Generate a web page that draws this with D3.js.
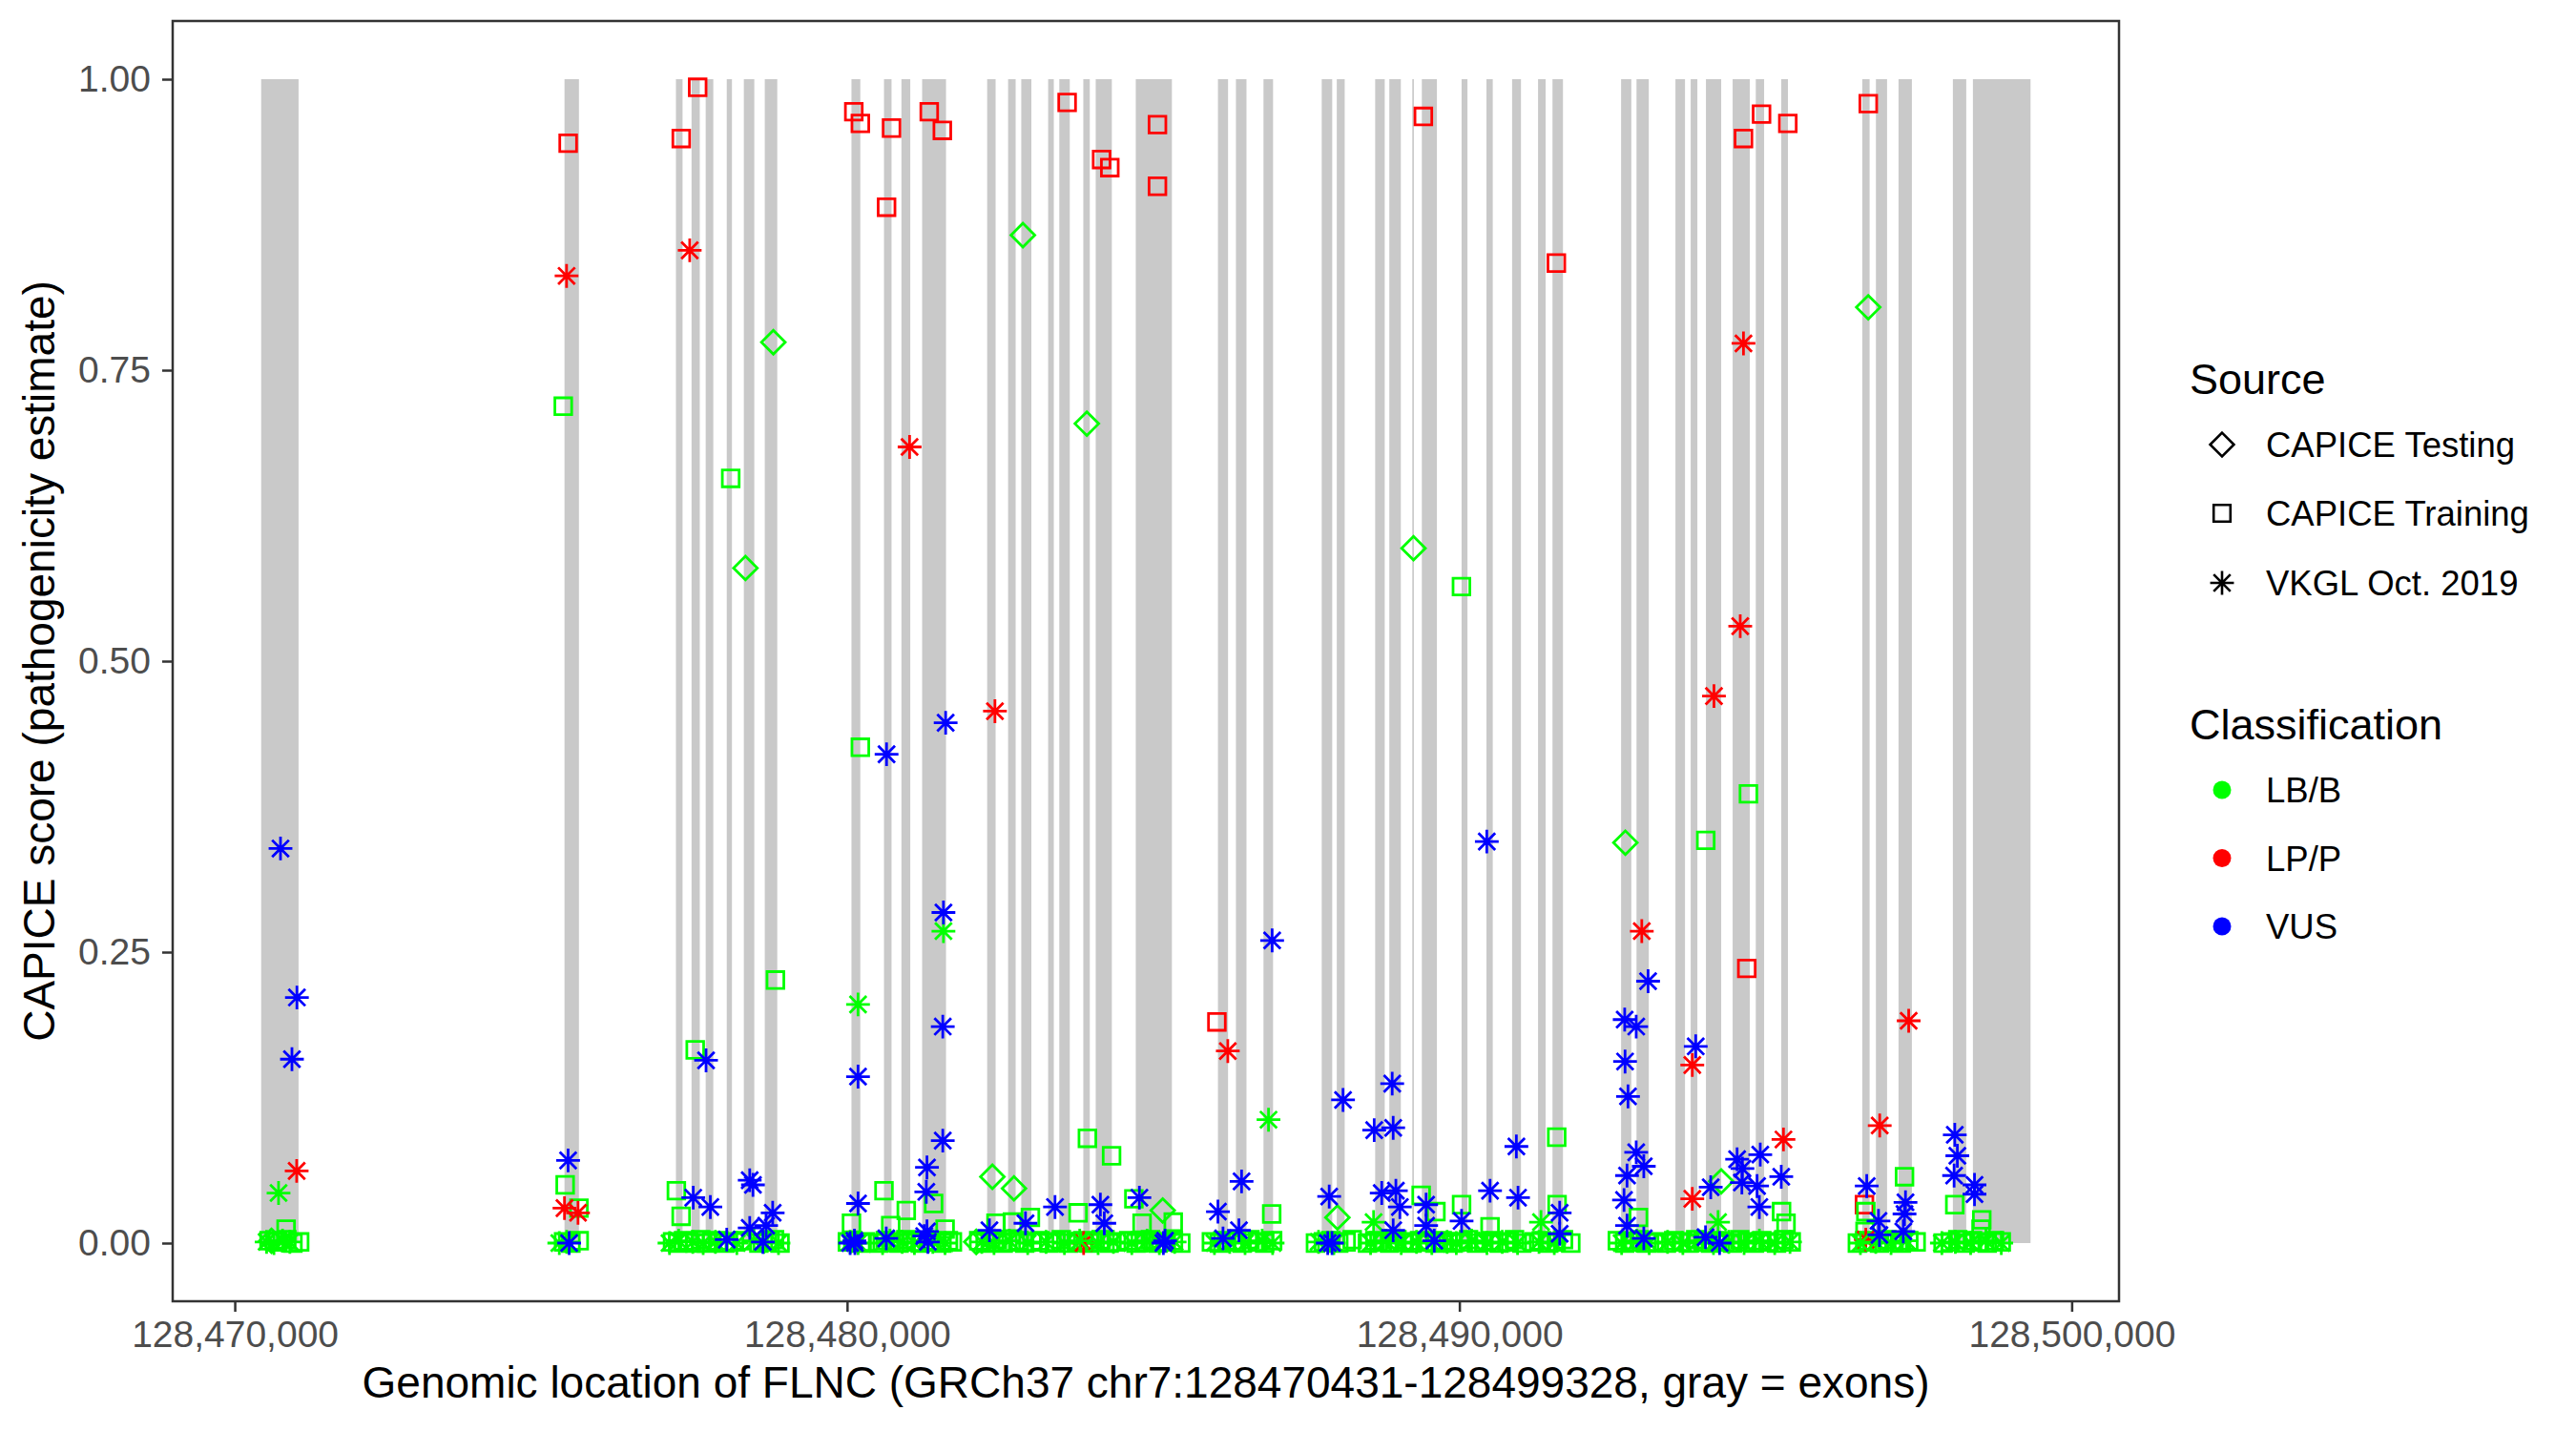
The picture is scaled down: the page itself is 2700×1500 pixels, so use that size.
<!DOCTYPE html>
<html>
<head>
<meta charset="utf-8">
<script src="https://cdn.jsdelivr.net/npm/d3@7"></script>
<style>
  body { margin: 0; background: #fff; }
  text { font-family: "Liberation Sans", Arial, sans-serif; }
</style>
</head>
<body>
<div id="chart"></div>
<script>

// exon start/end on chr7 (gray bands)
var exons = [
  [128470431,128471042],[128475385,128475621],[128477205,128477313],[128477460,128477594],
  [128477691,128477815],[128478035,128478120],[128478314,128478485],[128478656,128478860],
  [128480072,128480216],[128480603,128480726],[128480888,128481032],[128481226,128481616],
  [128482288,128482426],[128482630,128482753],[128482845,128483010],[128483284,128483376],
  [128483466,128483637],[128483858,128483964],[128484061,128484324],[128484715,128485305],
  [128486057,128486222],[128486351,128486523],[128486801,128486957],[128487752,128487923],
  [128487998,128488127],[128488625,128488781],[128488856,128489044],[128489231,128489257],
  [128489387,128489633],[128490036,128490132],[128490442,128490545],[128490861,128491006],
  [128491285,128491408],[128491521,128491692],[128492641,128492808],[128492893,128493093],
  [128493529,128493685],[128493778,128493887],[128494027,128494276],[128494463,128494743],
  [128494841,128494977],[128495257,128495366],[128496580,128496700],[128496803,128496985],
  [128497172,128497390],[128498060,128498278],[128498387,128499328]
];

var xTicks = [128470000, 128480000, 128490000, 128500000];
var yTicks = [0, 0.25, 0.5, 0.75, 1];
var sources = ["CAPICE Testing", "CAPICE Training", "VKGL Oct. 2019"];
var classes = ["LB/B", "LP/P", "VUS"];

// [position, score, classification]
var testingPoints = [
  [128478796,0.774,"LB/B"],[128478340,0.580,"LB/B"],[128482871,0.866,"LB/B"],[128483916,0.704,"LB/B"],
  [128489251,0.597,"LB/B"],[128496678,0.804,"LB/B"],[128492711,0.344,"LB/B"],[128482373,0.057,"LB/B"],
  [128482726,0.047,"LB/B"],[128485155,0.028,"LB/B"],[128488008,0.022,"LB/B"],[128494276,0.053,"LB/B"],
  [128482110,0.001,"LB/B"],[128470600,0.002,"LB/B"]
];

var trainingPoints = [
  [128475445,0.945,"LP/P"],[128477292,0.949,"LP/P"],[128477560,0.993,"LP/P"],[128480110,0.972,"LP/P"],
  [128480217,0.962,"LP/P"],[128480726,0.958,"LP/P"],[128480645,0.890,"LP/P"],[128481342,0.972,"LP/P"],
  [128481556,0.956,"LP/P"],[128483594,0.980,"LP/P"],[128484157,0.931,"LP/P"],[128484291,0.924,"LP/P"],
  [128485069,0.961,"LP/P"],[128485069,0.908,"LP/P"],[128489412,0.968,"LP/P"],[128491584,0.842,"LP/P"],
  [128494640,0.949,"LP/P"],[128494935,0.970,"LP/P"],[128495364,0.962,"LP/P"],[128496678,0.979,"LP/P"],
  [128494694,0.236,"LP/P"],[128486040,0.190,"LP/P"],[128496616,0.033,"LP/P"],
  [128475365,0.719,"LB/B"],[128478100,0.657,"LB/B"],[128477520,0.166,"LB/B"],[128478830,0.226,"LB/B"],
  [128480217,0.426,"LB/B"],[128490034,0.564,"LB/B"],[128494024,0.346,"LB/B"],[128494721,0.386,"LB/B"],
  [128491590,0.091,"LB/B"],[128483925,0.090,"LB/B"],[128484320,0.075,"LB/B"],[128470838,0.012,"LB/B"],
  [128475396,0.050,"LB/B"],[128475621,0.030,"LB/B"],[128477212,0.045,"LB/B"],[128477290,0.023,"LB/B"],
  [128480603,0.045,"LB/B"],[128480072,0.017,"LB/B"],[128480967,0.028,"LB/B"],[128481413,0.034,"LB/B"],
  [128483772,0.026,"LB/B"],[128484684,0.038,"LB/B"],[128484818,0.017,"LB/B"],[128485327,0.018,"LB/B"],
  [128482700,0.018,"LB/B"],[128482994,0.022,"LB/B"],[128482432,0.017,"LB/B"],[128481601,0.012,"LB/B"],
  [128480713,0.015,"LB/B"],[128486935,0.025,"LB/B"],[128489376,0.041,"LB/B"],[128489617,0.027,"LB/B"],
  [128490036,0.033,"LB/B"],[128490501,0.014,"LB/B"],[128491596,0.033,"LB/B"],[128492925,0.022,"LB/B"],
  [128495262,0.027,"LB/B"],[128495335,0.017,"LB/B"],[128497270,0.057,"LB/B"],[128496638,0.027,"LB/B"],
  [128496625,0.010,"LB/B"],[128498091,0.033,"LB/B"],[128498532,0.020,"LB/B"],[128498520,0.012,"LB/B"],
  // near-zero scores
  [128470560,0.002,"LB/B"],[128470700,0.001,"LB/B"],[128470850,0.003,"LB/B"],[128470950,0.000,"LB/B"],
  [128471060,0.001,"LB/B"],[128475370,0.001,"LB/B"],[128475490,0.000,"LB/B"],[128475625,0.002,"LB/B"],
  [128477150,0.001,"LB/B"],[128477235,0.000,"LB/B"],[128477330,0.002,"LB/B"],[128477420,0.001,"LB/B"],
  [128477515,0.000,"LB/B"],[128477610,0.003,"LB/B"],[128477705,0.000,"LB/B"],[128477790,0.001,"LB/B"],
  [128477905,0.002,"LB/B"],[128478010,0.000,"LB/B"],[128478160,0.001,"LB/B"],[128478290,0.002,"LB/B"],
  [128478560,0.000,"LB/B"],[128478700,0.001,"LB/B"],[128478815,0.003,"LB/B"],[128478905,0.000,"LB/B"],
  [128480005,0.001,"LB/B"],[128480095,0.002,"LB/B"],[128480225,0.000,"LB/B"],[128480300,0.001,"LB/B"],
  [128480520,0.000,"LB/B"],[128480625,0.002,"LB/B"],[128480720,0.001,"LB/B"],[128480850,0.000,"LB/B"],
  [128480960,0.003,"LB/B"],[128481055,0.001,"LB/B"],[128481195,0.000,"LB/B"],[128481350,0.002,"LB/B"],
  [128481450,0.001,"LB/B"],[128481550,0.000,"LB/B"],[128481655,0.002,"LB/B"],[128481720,0.001,"LB/B"],
  [128482150,0.002,"LB/B"],[128482255,0.000,"LB/B"],[128482345,0.001,"LB/B"],[128482455,0.003,"LB/B"],
  [128482550,0.000,"LB/B"],[128482680,0.001,"LB/B"],[128482805,0.002,"LB/B"],[128482900,0.000,"LB/B"],
  [128483020,0.001,"LB/B"],[128483150,0.002,"LB/B"],[128483300,0.000,"LB/B"],[128483405,0.001,"LB/B"],
  [128483500,0.003,"LB/B"],[128483620,0.000,"LB/B"],[128483745,0.001,"LB/B"],[128483850,0.002,"LB/B"],
  [128483955,0.000,"LB/B"],[128484050,0.001,"LB/B"],[128484150,0.003,"LB/B"],[128484280,0.000,"LB/B"],
  [128484400,0.001,"LB/B"],[128484600,0.002,"LB/B"],[128484720,0.000,"LB/B"],[128484850,0.001,"LB/B"],
  [128484955,0.003,"LB/B"],[128485080,0.000,"LB/B"],[128485200,0.001,"LB/B"],[128485330,0.002,"LB/B"],
  [128485450,0.000,"LB/B"],[128485950,0.001,"LB/B"],[128486080,0.000,"LB/B"],[128486200,0.002,"LB/B"],
  [128486330,0.001,"LB/B"],[128486450,0.000,"LB/B"],[128486580,0.003,"LB/B"],[128486700,0.001,"LB/B"],
  [128486820,0.000,"LB/B"],[128486950,0.002,"LB/B"],[128487650,0.000,"LB/B"],[128487780,0.001,"LB/B"],
  [128487900,0.002,"LB/B"],[128488030,0.000,"LB/B"],[128488150,0.001,"LB/B"],[128488250,0.003,"LB/B"],
  [128488500,0.000,"LB/B"],[128488620,0.002,"LB/B"],[128488740,0.001,"LB/B"],[128488860,0.000,"LB/B"],
  [128488980,0.003,"LB/B"],[128489100,0.001,"LB/B"],[128489230,0.000,"LB/B"],[128489350,0.002,"LB/B"],
  [128489470,0.001,"LB/B"],[128489600,0.000,"LB/B"],[128489720,0.002,"LB/B"],[128489820,0.001,"LB/B"],
  [128489900,0.000,"LB/B"],[128490020,0.001,"LB/B"],[128490150,0.003,"LB/B"],[128490280,0.000,"LB/B"],
  [128490400,0.001,"LB/B"],[128490520,0.002,"LB/B"],[128490650,0.000,"LB/B"],[128490780,0.001,"LB/B"],
  [128490900,0.003,"LB/B"],[128491020,0.000,"LB/B"],[128491220,0.001,"LB/B"],[128491340,0.002,"LB/B"],
  [128491460,0.000,"LB/B"],[128491580,0.001,"LB/B"],[128491700,0.003,"LB/B"],[128491820,0.000,"LB/B"],
  [128492580,0.002,"LB/B"],[128492700,0.000,"LB/B"],[128492820,0.001,"LB/B"],[128492940,0.003,"LB/B"],
  [128493060,0.000,"LB/B"],[128493180,0.001,"LB/B"],[128493380,0.000,"LB/B"],[128493500,0.002,"LB/B"],
  [128493620,0.001,"LB/B"],[128493740,0.000,"LB/B"],[128493860,0.003,"LB/B"],[128493980,0.001,"LB/B"],
  [128494100,0.000,"LB/B"],[128494220,0.002,"LB/B"],[128494340,0.001,"LB/B"],[128494460,0.000,"LB/B"],
  [128494580,0.003,"LB/B"],[128494700,0.001,"LB/B"],[128494820,0.000,"LB/B"],[128494940,0.002,"LB/B"],
  [128495060,0.001,"LB/B"],[128495180,0.000,"LB/B"],[128495300,0.003,"LB/B"],[128495420,0.001,"LB/B"],
  [128496500,0.000,"LB/B"],[128496620,0.002,"LB/B"],[128496740,0.001,"LB/B"],[128496860,0.000,"LB/B"],
  [128496980,0.003,"LB/B"],[128497100,0.001,"LB/B"],[128497220,0.000,"LB/B"],[128497340,0.002,"LB/B"],
  [128497460,0.001,"LB/B"],[128497900,0.000,"LB/B"],[128498020,0.001,"LB/B"],[128498140,0.003,"LB/B"],
  [128498260,0.000,"LB/B"],[128498380,0.002,"LB/B"],[128498500,0.001,"LB/B"],[128498620,0.000,"LB/B"],
  [128498740,0.002,"LB/B"],[128498850,0.001,"LB/B"]
];

var vkglPoints = [
  [128475419,0.831,"LP/P"],[128477430,0.853,"LP/P"],[128481021,0.684,"LP/P"],[128482415,0.457,"LP/P"],
  [128494640,0.773,"LP/P"],[128494587,0.530,"LP/P"],[128494158,0.470,"LP/P"],[128492979,0.268,"LP/P"],
  [128493804,0.153,"LP/P"],[128493804,0.038,"LP/P"],[128495293,0.089,"LP/P"],[128496865,0.101,"LP/P"],
  [128497338,0.191,"LP/P"],[128486218,0.165,"LP/P"],[128471011,0.062,"LP/P"],[128475385,0.030,"LP/P"],
  [128475606,0.026,"LP/P"],[128483863,0.000,"LP/P"],[128496638,0.003,"LP/P"],
  [128470715,0.043,"LB/B"],[128480179,0.205,"LB/B"],[128481574,0.268,"LB/B"],[128486883,0.106,"LB/B"],
  [128488599,0.018,"LB/B"],[128491333,0.018,"LB/B"],[128494225,0.018,"LB/B"],
  [128470520,0.001,"LB/B"],[128470640,0.000,"LB/B"],[128470780,0.002,"LB/B"],[128470900,0.001,"LB/B"],
  [128475300,0.000,"LB/B"],[128475420,0.001,"LB/B"],[128477100,0.000,"LB/B"],[128477250,0.002,"LB/B"],
  [128477480,0.001,"LB/B"],[128477650,0.000,"LB/B"],[128477850,0.001,"LB/B"],[128478200,0.000,"LB/B"],
  [128478480,0.002,"LB/B"],[128478640,0.001,"LB/B"],[128478880,0.000,"LB/B"],[128480050,0.001,"LB/B"],
  [128480180,0.000,"LB/B"],[128480580,0.000,"LB/B"],[128480700,0.002,"LB/B"],[128480900,0.001,"LB/B"],
  [128481100,0.000,"LB/B"],[128481400,0.001,"LB/B"],[128481600,0.000,"LB/B"],[128482200,0.001,"LB/B"],
  [128482400,0.000,"LB/B"],[128482650,0.002,"LB/B"],[128482950,0.000,"LB/B"],[128483250,0.001,"LB/B"],
  [128483550,0.000,"LB/B"],[128483800,0.002,"LB/B"],[128484100,0.000,"LB/B"],[128484350,0.001,"LB/B"],
  [128484650,0.000,"LB/B"],[128484900,0.002,"LB/B"],[128485100,0.000,"LB/B"],[128485350,0.001,"LB/B"],
  [128486000,0.000,"LB/B"],[128486250,0.001,"LB/B"],[128486500,0.000,"LB/B"],[128486780,0.002,"LB/B"],
  [128486950,0.000,"LB/B"],[128487700,0.001,"LB/B"],[128487950,0.000,"LB/B"],[128488550,0.000,"LB/B"],
  [128488800,0.002,"LB/B"],[128489050,0.000,"LB/B"],[128489300,0.001,"LB/B"],[128489550,0.000,"LB/B"],
  [128489800,0.001,"LB/B"],[128489950,0.000,"LB/B"],[128490200,0.002,"LB/B"],[128490450,0.000,"LB/B"],
  [128490700,0.001,"LB/B"],[128490950,0.000,"LB/B"],[128491300,0.001,"LB/B"],[128491550,0.000,"LB/B"],
  [128492650,0.000,"LB/B"],[128492900,0.002,"LB/B"],[128493100,0.000,"LB/B"],[128493400,0.001,"LB/B"],
  [128493650,0.000,"LB/B"],[128493900,0.002,"LB/B"],[128494150,0.000,"LB/B"],[128494400,0.001,"LB/B"],
  [128494650,0.000,"LB/B"],[128494900,0.002,"LB/B"],[128495150,0.000,"LB/B"],[128495400,0.001,"LB/B"],
  [128496550,0.000,"LB/B"],[128496800,0.001,"LB/B"],[128497050,0.000,"LB/B"],[128497300,0.002,"LB/B"],
  [128497880,0.000,"LB/B"],[128498100,0.001,"LB/B"],[128498350,0.000,"LB/B"],[128498600,0.002,"LB/B"],
  [128498850,0.000,"LB/B"],
  [128470747,0.339,"VUS"],[128471015,0.211,"VUS"],[128470934,0.158,"VUS"],[128475444,0.071,"VUS"],
  [128475461,0.000,"VUS"],[128477697,0.157,"VUS"],[128477488,0.039,"VUS"],[128477767,0.031,"VUS"],
  [128478035,0.003,"VUS"],[128478410,0.054,"VUS"],[128478463,0.050,"VUS"],[128478410,0.013,"VUS"],
  [128478785,0.026,"VUS"],[128478678,0.015,"VUS"],[128478625,0.001,"VUS"],[128480179,0.143,"VUS"],
  [128480179,0.034,"VUS"],[128480128,0.000,"VUS"],[128480050,0.000,"VUS"],[128480120,0.002,"VUS"],
  [128481574,0.284,"VUS"],[128481563,0.186,"VUS"],[128481563,0.088,"VUS"],[128481305,0.065,"VUS"],
  [128481294,0.044,"VUS"],[128481305,0.010,"VUS"],[128481320,0.001,"VUS"],[128481260,0.006,"VUS"],
  [128480645,0.420,"VUS"],[128481610,0.447,"VUS"],[128480640,0.004,"VUS"],[128482325,0.011,"VUS"],
  [128482914,0.017,"VUS"],[128483396,0.031,"VUS"],[128484137,0.033,"VUS"],[128484201,0.017,"VUS"],
  [128484774,0.039,"VUS"],[128485193,0.002,"VUS"],[128485166,0.000,"VUS"],[128486057,0.027,"VUS"],
  [128486140,0.004,"VUS"],[128486443,0.053,"VUS"],[128486400,0.011,"VUS"],[128486942,0.260,"VUS"],
  [128487874,0.040,"VUS"],[128487850,0.000,"VUS"],[128487920,0.000,"VUS"],[128488100,0.123,"VUS"],
  [128488609,0.097,"VUS"],[128488903,0.137,"VUS"],[128488919,0.099,"VUS"],[128488732,0.043,"VUS"],
  [128488963,0.045,"VUS"],[128489028,0.031,"VUS"],[128488919,0.011,"VUS"],[128489457,0.033,"VUS"],
  [128489457,0.015,"VUS"],[128489590,0.002,"VUS"],[128490448,0.345,"VUS"],[128490501,0.045,"VUS"],
  [128490931,0.083,"VUS"],[128490958,0.039,"VUS"],[128490036,0.019,"VUS"],[128491638,0.026,"VUS"],
  [128491638,0.008,"VUS"],[128492700,0.192,"VUS"],[128492888,0.186,"VUS"],[128493082,0.225,"VUS"],
  [128492706,0.156,"VUS"],[128492754,0.126,"VUS"],[128492888,0.078,"VUS"],[128493012,0.066,"VUS"],
  [128492738,0.058,"VUS"],[128492689,0.037,"VUS"],[128492738,0.015,"VUS"],[128493012,0.004,"VUS"],
  [128493860,0.169,"VUS"],[128494105,0.048,"VUS"],[128494536,0.072,"VUS"],[128494623,0.064,"VUS"],
  [128494614,0.052,"VUS"],[128494914,0.076,"VUS"],[128494862,0.049,"VUS"],[128494899,0.031,"VUS"],
  [128495257,0.057,"VUS"],[128494020,0.005,"VUS"],[128494250,0.000,"VUS"],[128496653,0.049,"VUS"],
  [128496845,0.019,"VUS"],[128496860,0.007,"VUS"],[128497286,0.035,"VUS"],[128497270,0.025,"VUS"],
  [128497250,0.010,"VUS"],[128498091,0.093,"VUS"],[128498133,0.075,"VUS"],[128498080,0.058,"VUS"],
  [128498413,0.050,"VUS"],[128498413,0.042,"VUS"]
];

var W = 2700, H = 1500;
var panel = {left: 181, right: 2221, top: 22, bottom: 1364};
var FONT = '"Liberation Sans", Arial, sans-serif';

var svg = d3.select("#chart").append("svg")
    .attr("width", W)
    .attr("height", H);

// x domain = gene span with ggplot's 5% expansion
var xmin = d3.min(exons, function(d) { return d[0]; }),
    xmax = d3.max(exons, function(d) { return d[1]; }),
    xpad = 0.05 * (xmax - xmin);
var x = d3.scaleLinear()
    .domain([xmin - xpad, xmax + xpad])
    .range([panel.left, panel.right]);

// exon bands run 0..1, so y expands around that
var y = d3.scaleLinear()
    .domain([-0.05, 1.05])
    .range([panel.bottom, panel.top]);

var color = d3.scaleOrdinal().domain(classes).range(["#00ff00", "#ff0000", "#0000ff"]);

// gray exon bands
svg.append("g").selectAll("rect")
  .data(exons)
  .enter().append("rect")
    .attr("x", function(d) { return x(d[0]); })
    .attr("width", function(d) { return x(d[1]) - x(d[0]); })
    .attr("y", y(1))
    .attr("height", y(0) - y(1))
    .attr("fill", "#c9c9c9");

// point shapes like R pch 5 / 0 / 8
var R = 8.8;
function shapePath(kind, r) {
  var k = Math.SQRT2 * r;
  if (kind === "diamond") return "M0," + (-k) + "L" + k + ",0L0," + k + "L" + (-k) + ",0Z";
  if (kind === "square") return "M" + (-r) + "," + (-r) + "h" + (2 * r) + "v" + (2 * r) + "h" + (-2 * r) + "Z";
  return "M0," + (-k) + "V" + k + "M" + (-k) + ",0H" + k +
         "M" + (-r) + "," + (-r) + "L" + r + "," + r + "M" + (-r) + "," + r + "L" + r + "," + (-r);
}

function drawPoints(data, kind) {
  svg.append("g").selectAll("path")
    .data(data)
    .enter().append("path")
      .attr("transform", function(d) { return "translate(" + x(d[0]) + "," + y(d[1]) + ")"; })
      .attr("d", shapePath(kind, R))
      .attr("fill", "none")
      .attr("stroke", function(d) { return color(d[2]); })
      .attr("stroke-width", 2.8);
}

drawPoints(trainingPoints, "square");
drawPoints(testingPoints, "diamond");
drawPoints(vkglPoints, "asterisk");

// panel border
svg.append("rect")
    .attr("x", panel.left).attr("y", panel.top)
    .attr("width", panel.right - panel.left)
    .attr("height", panel.bottom - panel.top)
    .attr("fill", "none")
    .attr("stroke", "#333333")
    .attr("stroke-width", 2.5);

// axes
var xAxis = svg.append("g")
    .attr("transform", "translate(0," + panel.bottom + ")")
    .call(d3.axisBottom(x).tickValues(xTicks).tickFormat(d3.format(",")).tickSize(11).tickPadding(9));
var yAxis = svg.append("g")
    .attr("transform", "translate(" + panel.left + ",0)")
    .call(d3.axisLeft(y).tickValues(yTicks).tickFormat(d3.format(".2f")).tickSize(11).tickPadding(12));

[xAxis, yAxis].forEach(function(a) {
  a.select(".domain").remove();
  a.selectAll(".tick line").attr("stroke", "#333333").attr("stroke-width", 2.5);
  a.selectAll(".tick text")
    .attr("fill", "#4d4d4d")
    .style("font-family", FONT)
    .style("font-size", "39px");
});

// axis titles
svg.append("text")
    .attr("x", (panel.left + panel.right) / 2)
    .attr("y", 1465)
    .attr("text-anchor", "middle")
    .style("font-size", "46px")
    .text("Genomic location of FLNC (GRCh37 chr7:128470431-128499328, gray = exons)");

svg.append("text")
    .attr("transform", "translate(57," + ((panel.top + panel.bottom) / 2) + ") rotate(-90)")
    .attr("text-anchor", "middle")
    .style("font-size", "46px")
    .text("CAPICE score (pathogenicity estimate)");

// legends
var keyX = 2329, labelX = 2375;
var shapeKinds = ["diamond", "square", "asterisk"];
var srcRows = [466, 538, 611], clsRows = [828, 899.5, 971];

svg.append("text").attr("x", 2295).attr("y", 413).style("font-size", "45px").text("Source");
sources.forEach(function(s, i) {
  svg.append("path")
      .attr("transform", "translate(" + keyX + "," + srcRows[i] + ")")
      .attr("d", shapePath(shapeKinds[i], R))
      .attr("fill", "none").attr("stroke", "#000").attr("stroke-width", 2.6);
  svg.append("text").attr("x", labelX).attr("y", srcRows[i] + 13)
      .style("font-size", "36.5px").text(s);
});

svg.append("text").attr("x", 2295).attr("y", 775).style("font-size", "45px").text("Classification");
classes.forEach(function(c, i) {
  svg.append("circle")
      .attr("cx", keyX).attr("cy", clsRows[i]).attr("r", 9.5)
      .attr("fill", color(c));
  svg.append("text").attr("x", labelX).attr("y", clsRows[i] + 13)
      .style("font-size", "36.5px").text(c);
});

</script>
</body>
</html>
